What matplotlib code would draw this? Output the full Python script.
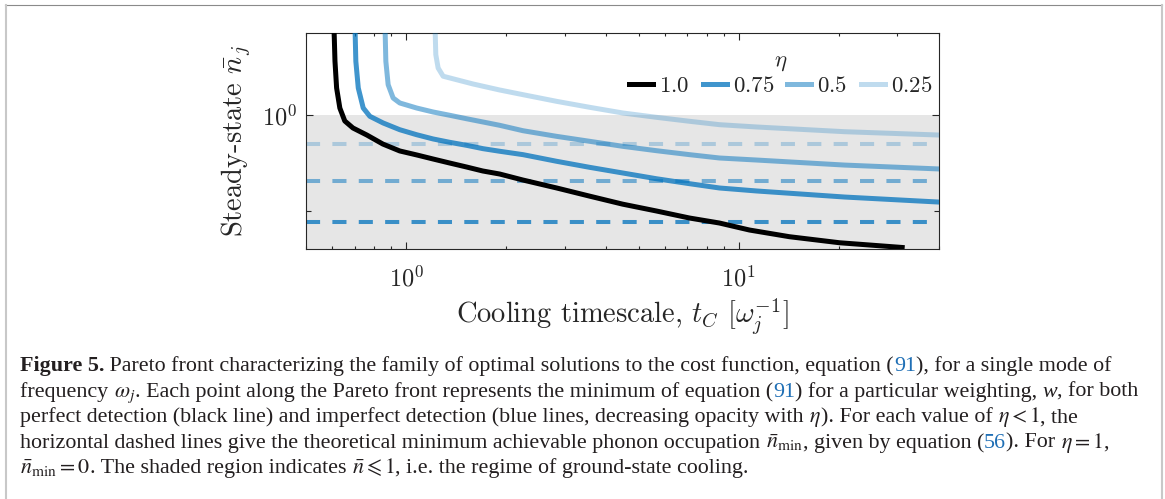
import numpy as np
import matplotlib
matplotlib.use('Agg')
import matplotlib.pyplot as plt
from matplotlib.lines import Line2D
from matplotlib.ticker import FixedLocator, FixedFormatter, LogLocator, NullFormatter

plt.rcParams['mathtext.fontset'] = 'cm'

# =========================
# Datos
# =========================
eta_vals = [1.0, 0.75, 0.5, 0.25]
eta_labels = [r'$1.0$', r'$0.75$', r'$0.5$', r'$0.25$']

t_100 = [0.606, 0.611, 0.618, 0.632, 0.654, 0.692, 0.762, 0.851, 0.957, 1.077, 1.203,
         1.353, 1.521, 1.699, 1.911, 2.241, 2.836, 3.562, 4.474, 5.66, 7.11, 8.75,
         10.77, 14.2, 20.1, 31.0]
n_100 = [10, 3.69, 1.93, 1.19, 0.872, 0.737, 0.622, 0.501, 0.424, 0.385, 0.350,
         0.317, 0.288, 0.262, 0.2435, 0.211, 0.174, 0.143, 0.118, 0.100, 0.0845, 0.0749,
         0.0633, 0.0539, 0.0466, 0.0416]

t_075 = [0.701, 0.706, 0.718, 0.743, 0.778, 0.853, 0.957, 1.075, 1.205, 1.353, 1.518,
         1.703, 1.911, 2.246, 2.831, 3.562, 4.483, 5.649, 7.11, 8.75, 11.3, 20.8, 40]
n_075 = [10, 3.667, 1.929, 1.192, 0.976, 0.831, 0.707, 0.627, 0.566, 0.522, 0.486,
         0.448, 0.421, 0.388, 0.331, 0.286, 0.2495, 0.2175, 0.193, 0.174, 0.162, 0.140, 0.124]

t_050 = [0.863, 0.869, 0.883, 0.914, 0.957, 1.075, 1.205, 1.353, 1.518, 1.703, 1.911,
         2.246, 2.831, 3.562, 4.483, 5.649, 7.11, 8.75, 11.3, 20.8, 40]
n_050 = [10, 3.667, 2.088, 1.516, 1.345, 1.192, 1.083, 1.0, 0.921, 0.851, 0.786,
         0.690, 0.603, 0.535, 0.474, 0.427, 0.388, 0.358, 0.341, 0.302, 0.275]

t_025 = [1.220, 1.228, 1.248, 1.292, 1.417, 1.589, 1.911, 2.246, 2.831, 3.562, 4.483,
         5.649, 7.11, 8.75, 11.3, 20.8, 40]
n_025 = [10, 4.30, 3.12, 2.56, 2.355, 2.124, 1.838, 1.642, 1.40, 1.212, 1.057,
         0.953, 0.866, 0.798, 0.755, 0.674, 0.622]

curves_t = [t_100, t_075, t_050, t_025]
curves_n = [n_100, n_075, n_050, n_025]

# minimos teoricos (lineas discontinuas) para eta < 1
eta_dash = [0.75, 0.5, 0.25]
n_min = [0.0774, 0.2071, 0.5]

x_ticks = [1, 10]
x_ticklabels = [r'$10^0$', r'$10^1$']
y_ticks = [1]
y_ticklabels = [r'$10^0$']

# =========================
# Figura
# =========================
W, H = 1165, 499
fig = plt.figure(figsize=(W / 100, H / 100), dpi=100)
ax = fig.add_axes([306 / W, 1 - 249 / H, 633 / W, 216 / H])
ax.set_xscale('log')
ax.set_yscale('log')

blue = (0, 0.447, 0.741)
axcol = '#262626'

ax.axhspan(1e-3, 1.0, color=(0.9, 0.9, 0.9), lw=0, zorder=0)

for eta, nm in zip(eta_dash, n_min):
    ax.axhline(nm, color=blue, alpha=eta, lw=2.9, dashes=(3.5, 3.05), zorder=1)

for eta, lab, tt, nn in zip(eta_vals, eta_labels, curves_t, curves_n):
    col = 'k' if eta == 1.0 else blue
    ax.plot(tt, nn, color=col, alpha=eta, lw=3.6, label=lab, zorder=3)

ax.set_xlim(0.5, 40)
ax.set_ylim(0.0401, 7.24)

ax.xaxis.set_major_locator(FixedLocator(x_ticks))
ax.xaxis.set_major_formatter(FixedFormatter(x_ticklabels))
ax.xaxis.set_minor_locator(LogLocator(base=10, subs=np.arange(2, 10)))
ax.xaxis.set_minor_formatter(NullFormatter())
ax.yaxis.set_major_locator(FixedLocator(y_ticks))
ax.yaxis.set_major_formatter(FixedFormatter(y_ticklabels))
ax.yaxis.set_minor_locator(FixedLocator([0.1]))
ax.yaxis.set_minor_formatter(NullFormatter())

ax.tick_params(which='both', direction='in', top=True, right=True, width=0.8,
               color=axcol, labelcolor=axcol, labelsize=17.5)
ax.tick_params(which='major', length=5.3)
ax.tick_params(axis='x', which='minor', length=2.5)
ax.tick_params(axis='y', which='minor', length=3.4)
ax.tick_params(axis='x', pad=12)
ax.tick_params(axis='y', pad=6.5)
for sp in ax.spines.values():
    sp.set_linewidth(0.8)
    sp.set_color(axcol)

ax.set_xlabel(r'Cooling timescale, $t_C$ $[\omega_j^{-1}]$', family='cmr10',
              fontsize=20.5, color=axcol)
ax.xaxis.set_label_coords(0.5, -0.218)
ax.set_ylabel(r'Steady-state $\bar{n}_j$', family='cmr10', fontsize=20.5, color=axcol)
ax.yaxis.set_label_coords(-0.084, 0.5)

leg = ax.legend(ncol=4, loc='upper right', bbox_to_anchor=(0.989, 0.933), frameon=False,
                title=r'$\eta$', fontsize=16.5, title_fontsize=16.5, handlelength=1.05,
                handletextpad=0.26, columnspacing=0.57, borderpad=0, borderaxespad=0,
                labelspacing=0.05)
for txt in leg.get_texts():
    txt.set_color(axcol)
leg.get_title().set_color(axcol)

# =========================
# Marco exterior
# =========================
fig.add_artist(Line2D([5 / W, 1162 / W], [1 - 4.5 / H, 1 - 4.5 / H], color='#8a8a8a', lw=0.8))
fig.add_artist(Line2D([5.5 / W, 5.5 / W], [0, 1 - 4.5 / H], color='#c8c8c8', lw=1.5))
fig.add_artist(Line2D([1161.5 / W, 1161.5 / W], [0, 1 - 4.5 / H], color='#c8c8c8', lw=1.5))

# =========================
# Leyenda de la figura (texto)
# =========================
link = '#1f6fb5'
ink = '#231f20'
renderer = fig.canvas.get_renderer()

cap_lines = [
    [('Figure 5.', 'b'),
     (' Pareto front characterizing the family of optimal solutions to the cost function, equation (', 'n'),
     ('91', 'l'), ('), for a single mode of', 'n')],
    [('frequency ', 'n'), (r'$\omega_j$', 'm'),
     ('. Each point along the Pareto front represents the minimum of equation (', 'n'),
     ('91', 'l'), (') for a particular weighting, ', 'n'), ('w', 'i'), (', for both', 'n')],
    [('perfect detection (black line) and imperfect detection (blue lines, decreasing opacity with ', 'n'),
     (r'$\eta$', 'm'), ('). For each value of ', 'n'), (r'$\eta<1$', 'm'), (', the', 'n')],
    [('horizontal dashed lines give the theoretical minimum achievable phonon occupation ', 'n'),
     (r'$\bar{n}_{\mathrm{min}}$', 'm'), (', given by equation (', 'n'), ('56', 'l'),
     ('). For ', 'n'), (r'$\eta=1$', 'm'), (',', 'n')],
    [(r'$\bar{n}_{\mathrm{min}}=0$', 'm'), ('. The shaded region indicates ', 'n'),
     (r'$\bar{n}\leqslant 1$', 'm'), (', i.e. the regime of ground-state cooling.', 'n')],
]
cap_base = [371, 396.6, 422.2, 447.8, 473.4]


def piece_kw(style, fs):
    kw = dict(fontsize=fs, family='Liberation Serif', math_fontfamily='stix', color=ink)
    if style == 'b':
        kw['weight'] = 'bold'
    if style == 'i':
        kw['style'] = 'italic'
    if style == 'l':
        kw['color'] = link
    return kw


def piece_width(s, style, fs):
    kw = piece_kw(style, fs)
    if style == 'm':
        t = fig.text(0, 0, s, **kw)
        w = t.get_window_extent(renderer).width
        t.remove()
        return w
    t1 = fig.text(0, 0, '|' + s + '|', **kw)
    t2 = fig.text(0, 0, '||', **kw)
    w = t1.get_window_extent(renderer).width - t2.get_window_extent(renderer).width
    t1.remove()
    t2.remove()
    return w


fs0 = 10
w0 = sum(piece_width(s, st, fs0) for s, st in cap_lines[0])
fs = fs0 * 1093 / w0

for yb, pieces in zip(cap_base, cap_lines):
    x = 20
    for s, st in pieces:
        fig.text(x / W, 1 - yb / H, s, ha='left', va='baseline', **piece_kw(st, fs))
        x += piece_width(s, st, fs)

fig.savefig('out.png', dpi=100)
